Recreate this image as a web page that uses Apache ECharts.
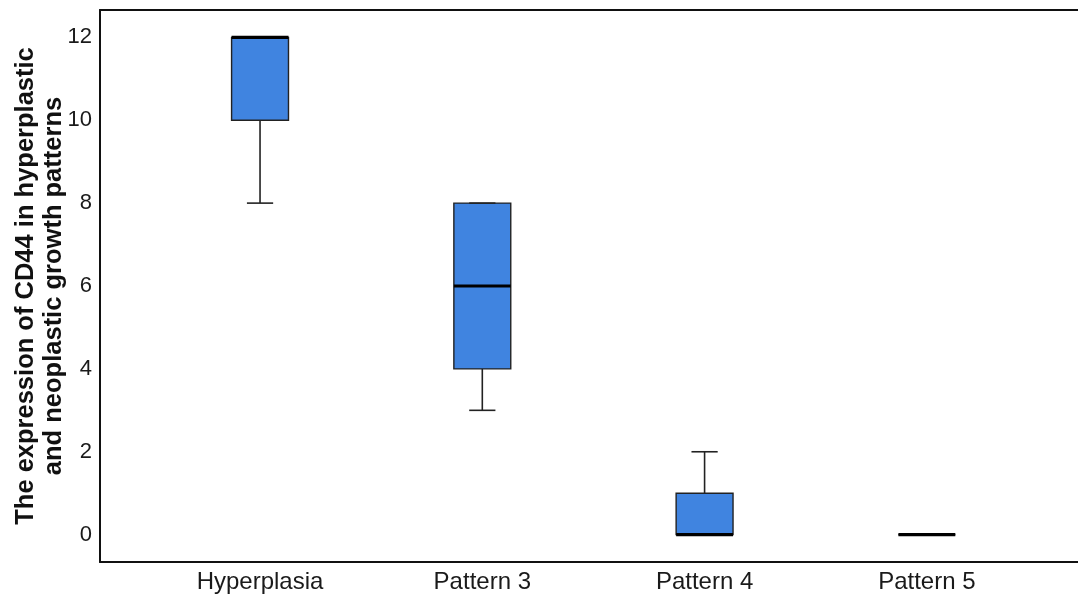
<!DOCTYPE html>
<html>
<head>
<meta charset="utf-8">
<script src="https://cdn.jsdelivr.net/npm/echarts@6/dist/echarts.min.js"></script>
<style>
html,body{margin:0;padding:0;background:#fff;}
#chart{width:1078px;height:599px;}
</style>
</head>
<body>
<div id="chart"></div>
<script>
const categories = ['Hyperplasia', 'Pattern 3', 'Pattern 4', 'Pattern 5'];
const minValues = [8, 3, 0, 0];
const q1Values = [10, 4, 0, 0];
const medianValues = [12, 6, 0, 0];
const q3Values = [12, 8, 1, 0];
const maxValues = [12, 8, 2, 0];
const yTickValues = [0, 2, 4, 6, 8, 10, 12];
const yAxisName = 'The expression of CD44 in hyperplastic\nand neoplastic growth patterns';

const FONT = "'Liberation Sans', Arial, Helvetica, sans-serif";
const data = categories.map((c, i) => [i, minValues[i], q1Values[i], medianValues[i], q3Values[i], maxValues[i]]);

function renderItem(params, api) {
  const x = api.value(0);
  const lo = api.value(1), q1 = api.value(2), med = api.value(3), q3 = api.value(4), hi = api.value(5);
  const unit = api.size([1, 0])[0];
  const bw = unit * 0.256;
  const cw = unit * 0.118;
  const pLo = api.coord([x, lo]);
  const pQ1 = api.coord([x, q1]);
  const pMed = api.coord([x, med]);
  const pQ3 = api.coord([x, q3]);
  const pHi = api.coord([x, hi]);
  const cx = pMed[0];
  const lineStyle = { stroke: '#222', lineWidth: 1.6 };
  const children = [
    { type: 'line', shape: { x1: cx, y1: pQ3[1], x2: cx, y2: pHi[1] }, style: lineStyle },
    { type: 'line', shape: { x1: cx, y1: pQ1[1], x2: cx, y2: pLo[1] }, style: lineStyle },
    { type: 'rect', shape: { x: cx - bw / 2, y: pQ3[1], width: bw, height: pQ1[1] - pQ3[1] },
      style: { fill: '#4084E0', stroke: '#222', lineWidth: 1.4 } },
    { type: 'line', shape: { x1: cx - cw / 2, y1: pHi[1], x2: cx + cw / 2, y2: pHi[1] }, style: lineStyle },
    { type: 'line', shape: { x1: cx - cw / 2, y1: pLo[1], x2: cx + cw / 2, y2: pLo[1] }, style: lineStyle },
    { type: 'line', shape: { x1: cx - bw / 2, y1: pMed[1], x2: cx + bw / 2, y2: pMed[1] },
      style: { stroke: '#000', lineWidth: 3.2 } }
  ];
  return { type: 'group', children: children };
}

const chart = echarts.init(document.getElementById('chart'), null, { renderer: 'canvas' });
chart.setOption({
  animation: false,
  backgroundColor: '#fff',
  grid: { left: 100, right: 0, top: 10, bottom: 37, containLabel: false, outerBoundsMode: 'none' },
  xAxis: [
    {
      type: 'value', min: -0.72, max: 3.68, position: 'bottom',
      axisLine: { show: true, onZero: false, lineStyle: { color: '#111', width: 2 } },
      axisTick: { show: false },
      splitLine: { show: false },
      axisLabel: {
        customValues: [0, 1, 2, 3],
        formatter: v => categories[Math.round(v)],
        fontFamily: FONT, fontSize: 24, color: '#1a1a1a', margin: 8
      }
    },
    {
      type: 'value', min: -0.72, max: 3.68, position: 'top',
      axisLine: { show: true, onZero: false, lineStyle: { color: '#111', width: 2 } },
      axisTick: { show: false }, splitLine: { show: false }, axisLabel: { show: false }
    }
  ],
  yAxis: {
    type: 'value', min: -0.66, max: 12.66,
    axisLine: { show: true, onZero: false, lineStyle: { color: '#111', width: 2 } },
    axisTick: { show: false },
    splitLine: { show: false },
    axisLabel: {
      customValues: yTickValues,
      fontFamily: FONT, fontSize: 22, color: '#1a1a1a', margin: 8
    },
    name: yAxisName,
    nameLocation: 'middle',
    nameGap: 32,
    nameMoveOverlap: false,
    nameTextStyle: { fontFamily: FONT, fontSize: 25.5, fontWeight: 'bold', color: '#111', lineHeight: 28, align: 'center' }
  },
  series: [{
    type: 'custom',
    renderItem: renderItem,
    xAxisIndex: 0,
    encode: { x: 0, y: [1, 2, 3, 4, 5] },
    data: data
  }]
});
</script>
</body>
</html>
